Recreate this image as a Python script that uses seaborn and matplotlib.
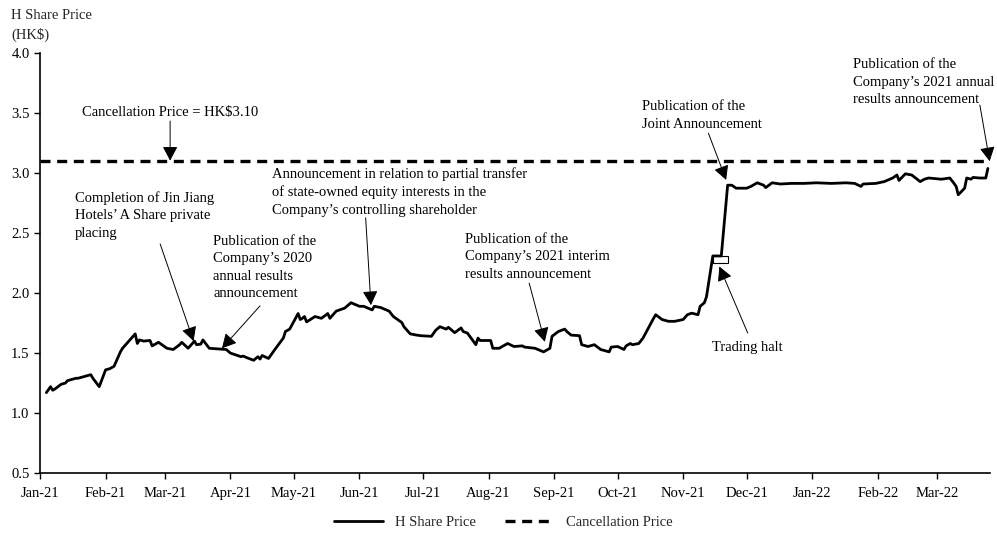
import matplotlib
matplotlib.use("Agg")
import matplotlib.pyplot as plt
import matplotlib.dates as mdates
from matplotlib.patches import Rectangle
import seaborn as sns
import pandas as pd

# ---------------- data ----------------
dates = [
    "2021-01-04", "2021-01-06", "2021-01-07", "2021-01-08", "2021-01-11", "2021-01-13",
    "2021-01-14", "2021-01-18", "2021-01-19", "2021-01-25", "2021-01-26", "2021-01-29",
    "2021-02-01", "2021-02-03", "2021-02-05", "2021-02-08", "2021-02-09", "2021-02-11",
    "2021-02-15", "2021-02-16", "2021-02-17", "2021-02-19", "2021-02-22", "2021-02-23",
    "2021-02-26", "2021-03-02", "2021-03-05", "2021-03-08", "2021-03-09", "2021-03-12",
    "2021-03-15", "2021-03-16", "2021-03-18", "2021-03-19", "2021-03-22", "2021-03-26",
    "2021-03-30", "2021-04-01", "2021-04-06", "2021-04-07", "2021-04-09", "2021-04-12",
    "2021-04-14", "2021-04-15", "2021-04-16", "2021-04-19", "2021-04-22", "2021-04-26",
    "2021-04-27", "2021-04-29", "2021-05-03", "2021-05-04", "2021-05-05", "2021-05-06",
    "2021-05-07", "2021-05-11", "2021-05-14", "2021-05-17", "2021-05-18", "2021-05-21",
    "2021-05-25", "2021-05-28", "2021-06-01", "2021-06-03", "2021-06-07", "2021-06-08",
    "2021-06-11", "2021-06-15", "2021-06-17", "2021-06-21", "2021-06-22", "2021-06-25",
    "2021-06-28", "2021-06-30", "2021-07-05", "2021-07-07", "2021-07-09", "2021-07-12",
    "2021-07-13", "2021-07-16", "2021-07-19", "2021-07-20", "2021-07-22", "2021-07-26",
    "2021-07-27", "2021-07-28", "2021-08-02", "2021-08-03", "2021-08-06", "2021-08-10",
    "2021-08-13", "2021-08-17", "2021-08-18", "2021-08-23", "2021-08-27", "2021-08-30",
    "2021-08-31", "2021-09-03", "2021-09-06", "2021-09-07", "2021-09-09", "2021-09-13",
    "2021-09-14", "2021-09-17", "2021-09-20", "2021-09-23", "2021-09-27", "2021-09-28",
    "2021-10-01", "2021-10-04", "2021-10-05", "2021-10-07", "2021-10-08", "2021-10-11",
    "2021-10-13", "2021-10-18", "2021-10-19", "2021-10-22", "2021-10-25", "2021-10-28",
    "2021-11-01", "2021-11-03", "2021-11-05", "2021-11-08", "2021-11-09", "2021-11-11",
    "2021-11-12", "2021-11-15", "2021-11-16", "2021-11-17", "2021-11-18", "2021-11-19",
    "2021-11-22", "2021-11-24", "2021-11-26", "2021-12-01", "2021-12-03", "2021-12-06",
    "2021-12-09", "2021-12-10", "2021-12-13", "2021-12-17", "2021-12-22", "2021-12-28",
    "2022-01-03", "2022-01-10", "2022-01-17", "2022-01-21", "2022-01-24", "2022-01-25",
    "2022-01-31", "2022-02-04", "2022-02-08", "2022-02-10", "2022-02-11", "2022-02-14",
    "2022-02-17", "2022-02-21", "2022-02-23", "2022-02-25", "2022-03-03", "2022-03-07",
    "2022-03-09", "2022-03-10", "2022-03-11", "2022-03-14", "2022-03-15", "2022-03-17",
    "2022-03-18", "2022-03-21", "2022-03-23", "2022-03-24", "2022-03-25",
]
h_share_price = [
    1.17, 1.22, 1.19, 1.20, 1.24, 1.25,
    1.27, 1.29, 1.29, 1.32, 1.29, 1.22,
    1.36, 1.37, 1.39, 1.51, 1.54, 1.58,
    1.66, 1.58, 1.61, 1.60, 1.605, 1.56,
    1.59, 1.54, 1.53, 1.57, 1.59, 1.54,
    1.60, 1.57, 1.575, 1.61, 1.54, 1.535,
    1.53, 1.50, 1.47, 1.475, 1.46, 1.44,
    1.47, 1.45, 1.48, 1.455, 1.53, 1.625,
    1.68, 1.70, 1.83, 1.78, 1.79, 1.805,
    1.76, 1.805, 1.79, 1.83, 1.79, 1.85,
    1.875, 1.92, 1.89, 1.89, 1.86, 1.89,
    1.88, 1.85, 1.805, 1.755, 1.72, 1.66,
    1.65, 1.645, 1.64, 1.69, 1.72, 1.70,
    1.715, 1.67, 1.71, 1.68, 1.667, 1.57,
    1.625, 1.605, 1.605, 1.54, 1.54, 1.58,
    1.555, 1.56, 1.55, 1.54, 1.51, 1.54,
    1.64, 1.68, 1.70, 1.68, 1.65, 1.645,
    1.57, 1.555, 1.57, 1.53, 1.51, 1.55,
    1.555, 1.53, 1.56, 1.58, 1.57, 1.58,
    1.625, 1.79, 1.82, 1.78, 1.765, 1.765,
    1.78, 1.82, 1.833, 1.82, 1.89, 1.92,
    1.97, 2.31, 2.31, 2.31, 2.31, 2.31,
    2.90, 2.90, 2.875, 2.875, 2.89, 2.92,
    2.90, 2.88, 2.92, 2.91, 2.915, 2.915,
    2.92, 2.915, 2.92, 2.915, 2.89, 2.91,
    2.915, 2.93, 2.96, 2.985, 2.94, 2.995,
    2.985, 2.93, 2.95, 2.96, 2.95, 2.96,
    2.915, 2.89, 2.82, 2.875, 2.96, 2.95,
    2.965, 2.96, 2.96, 2.96, 3.04,
]
cancellation_price = 3.10
halt_start, halt_end, halt_price = "2021-11-15", "2021-11-22", 2.31
y_ticks = [0.5, 1.0, 1.5, 2.0, 2.5, 3.0, 3.5, 4.0]
month_ticks = pd.date_range("2021-01-01", "2022-03-01", freq="MS")

# annotations: (text, text anchor (left x date, centre y), arrow start, arrow tip)
annotations = [
    ("Cancellation Price = HK$3.10", ("2021-01-21", 3.51),
     ("2021-03-03 12:00", 3.435), ("2021-03-03 12:00", 3.105)),
    ("Completion of Jin Jiang\nHotels\u2019 A Share private\nplacing", ("2021-01-17 14:00", 2.648),
     ("2021-02-26 19:00", 2.41), ("2021-03-14 14:00", 1.60)),
    ("Publication of the\nCompany\u2019s 2020\nannual results\nannouncement", ("2021-03-23 22:00", 2.215),
     ("2021-04-15", 1.894), ("2021-03-28", 1.54)),
    ("Announcement in relation to partial transfer\nof state-owned equity interests in the\nCompany\u2019s controlling shareholder",
     ("2021-04-20 19:00", 2.844), ("2021-06-03 22:00", 2.628), ("2021-06-06 10:00", 1.90)),
    ("Publication of the\nCompany\u2019s 2021 interim\nresults announcement", ("2021-07-20 17:00", 2.305),
     ("2021-08-20 05:00", 2.083), ("2021-08-27 14:00", 1.594)),
    ("Publication of the\nJoint Announcement", ("2021-10-12 10:00", 3.483),
     ("2021-11-12 22:00", 3.333), ("2021-11-21 07:00", 2.944)),
    ("Trading halt", ("2021-11-14 12:00", 1.55),
     ("2021-12-01 12:00", 1.667), ("2021-11-18 02:00", 2.222)),
    ("Publication of the\nCompany\u2019s 2021 annual\nresults announcement", ("2022-01-20 10:00", 3.757),
     ("2022-03-21 05:00", 3.569), ("2022-03-25 20:00", 3.10)),
]

# ---------------- style ----------------
sns.set_style("ticks")
plt.rcParams["font.family"] = ["Liberation Serif", "DejaVu Serif"]
plt.rcParams["font.size"] = 10.5

df = pd.DataFrame({"date": pd.to_datetime(dates), "price": h_share_price})

fig = plt.figure(figsize=(9.97, 5.35), dpi=100)
ax = fig.add_axes([40 / 997, 62 / 535, 950 / 997, (473 - 53.3) / 535])

sns.lineplot(data=df, x="date", y="price", ax=ax, color="black", linewidth=2.0,
             label="H Share Price", zorder=3)
ax.axhline(cancellation_price, color="black", linewidth=2.4, linestyle=(0, (3, 2)),
           label="Cancellation Price", zorder=2)

# trading halt box
hs, he = mdates.date2num(pd.Timestamp(halt_start)), mdates.date2num(pd.Timestamp(halt_end))
ax.add_patch(Rectangle((hs, halt_price - 0.055), he - hs, 0.055, facecolor="white",
                       edgecolor="black", linewidth=0.8, zorder=2.5))

ax.set_xlim(pd.Timestamp("2021-01-01"), pd.Timestamp("2022-03-26"))
ax.set_ylim(0.5, 4.0)
ax.set_yticks(y_ticks)
ax.set_yticklabels([f"{v:.1f}" for v in y_ticks])
ax.set_xticks(month_ticks)
ax.set_xticklabels([d.strftime("%b-%y") for d in month_ticks])
ax.set_xlabel("")
ax.set_ylabel("")
for s in ["top", "right"]:
    ax.spines[s].set_visible(False)
for s in ["left", "bottom"]:
    ax.spines[s].set_linewidth(1.2)
    ax.spines[s].set_color("black")
ax.tick_params(axis="both", direction="out", length=4, width=1, color="black",
               labelsize=10.5, labelcolor="black")
ax.tick_params(axis="x", pad=6)

for text, (tx, ty), (sx, sy), (ex, ey) in annotations:
    ax.text(pd.Timestamp(tx), ty, text, ha="left", va="center", fontsize=10.5,
            linespacing=1.45, color="black")
    ax.annotate("", xy=(pd.Timestamp(ex), ey), xytext=(pd.Timestamp(sx), sy),
                arrowprops=dict(arrowstyle="-|>,head_length=0.62,head_width=0.33",
                                mutation_scale=14, color="black", lw=0.7,
                                shrinkA=0, shrinkB=0), zorder=5)

fig.text(11 / 997, 1 - 25.5 / 535, "H Share Price\n(HK$)", ha="left", va="center",
         fontsize=10.5, linespacing=1.45)

leg = ax.legend(loc="center", bbox_to_anchor=(0.505, 1 - 522 / 535),
                bbox_transform=fig.transFigure, ncol=2, frameon=False,
                handlelength=3.4, columnspacing=2.0, fontsize=10.5)

fig.savefig("out.png", dpi=100)
